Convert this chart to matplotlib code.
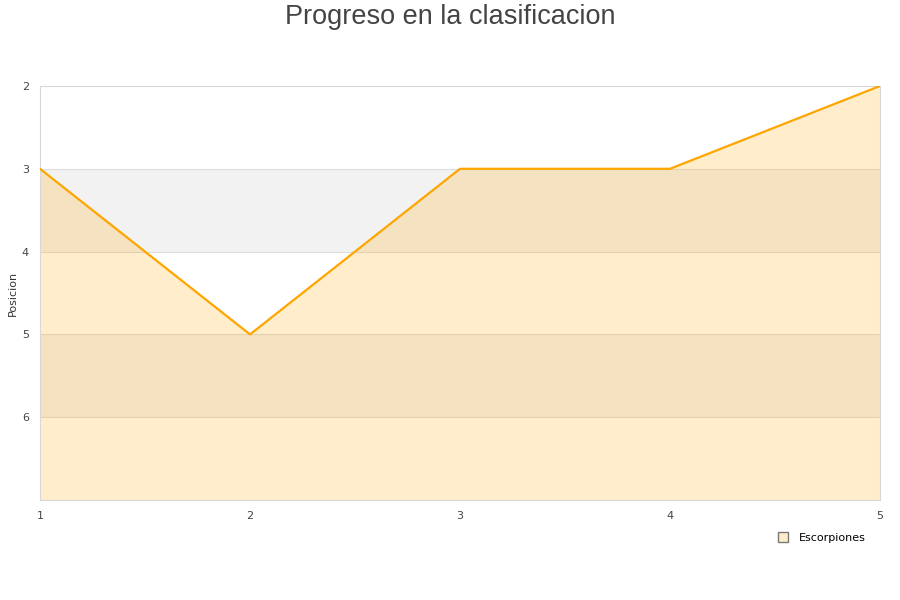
import matplotlib.pyplot as plt
import numpy as np

# Jornadas y posicion en la clasificacion
jornadas = [1, 2, 3, 4, 5]
posicion = [3, 5, 3, 3, 2]
y_ticks = [2, 3, 4, 5, 6]

fig = plt.figure(figsize=(9, 6), dpi=100)
ax = fig.add_axes([40 / 900, 1 - 500 / 600, 840 / 900, 414 / 600])

# Bandas alternas del fondo
for lo in [3, 5]:
    ax.axhspan(lo, lo + 1, color='#f2f2f2', zorder=0, lw=0)
for y in [3, 4, 5, 6]:
    ax.axhline(y, color='#dddddd', lw=0.8, zorder=1)

ax.fill_between(jornadas, posicion, 7, color='#ffa500', alpha=0.2, lw=0, zorder=2)
ax.plot(jornadas, posicion, color='#ffa500', lw=1.6, zorder=3, label='Escorpiones')

ax.set_xlim(1, 5)
ax.set_ylim(7, 2)
ax.set_xticks(jornadas)
ax.set_yticks(y_ticks)
ax.tick_params(length=0, labelsize=8, colors='#444444', pad=8)
for s in ax.spines.values():
    s.set_color('#d8d8d8')
ax.set_ylabel('Posicion', fontsize=8, color='#333333', labelpad=3)

fig.suptitle('Progreso en la clasificacion', fontsize=19.5, color='#444444',
             family='Liberation Sans', y=0.993)

handle = plt.Line2D([], [], marker='s', ls='', markersize=7,
                    markerfacecolor='#ffeccc', markeredgecolor='#777777')
fig.legend([handle], ['Escorpiones'], loc='center left',
           bbox_to_anchor=(762 / 900, 1 - 538 / 600), frameon=False,
           fontsize=8, handletextpad=0.4)

fig.savefig('out.png', dpi=100)
